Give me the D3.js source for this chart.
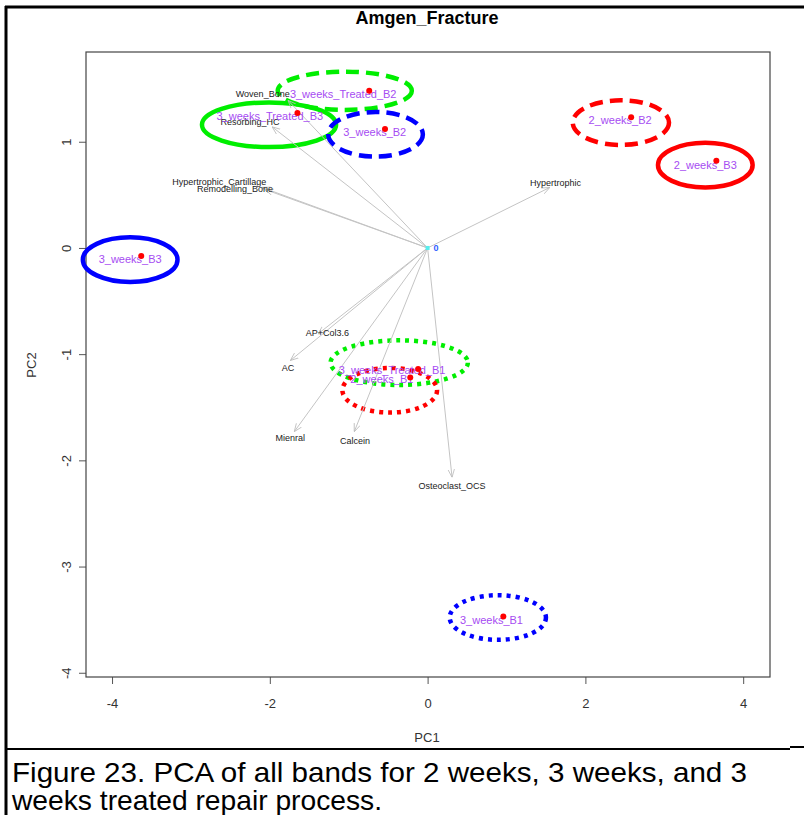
<!DOCTYPE html>
<html>
<head>
<meta charset="utf-8">
<script src="https://cdn.jsdelivr.net/npm/d3@7"></script>
<style>
  body { margin: 0; background: #fff; }
  svg { font-family: "Liberation Sans", Arial, sans-serif; }
</style>
</head>
<body>
<div id="graph"></div>
<script>
// sample scores (PC1, PC2)
const sampleNames = ["3_weeks_Treated_B2", "3_weeks_Treated_B3", "3_weeks_B2", "2_weeks_B2", "2_weeks_B3",
                     "3_weeks_B3", "3_weeks_Treated_B1", "2_weeks_B1", "3_weeks_B1"];
const sampleGroup = ["3_weeks_Treated", "3_weeks_Treated", "3_weeks", "2_weeks", "2_weeks",
                     "3_weeks", "3_weeks_Treated", "2_weeks", "3_weeks"];
const sampleBand = ["B2", "B3", "B2", "B2", "B3", "B3", "B1", "B1", "B1"];
const pc1 = [-0.74, -1.65, -0.54, 2.58, 3.66, -3.63, -0.12, -0.22, 0.96];
const pc2 = [1.48, 1.27, 1.12, 1.23, 0.82, -0.075, -1.14, -1.22, -3.47];
// where the sample names were printed
const labelPc1 = [-1.07, -2.0, -0.67, 2.44, 3.52, -3.77, -0.45, -0.58, 0.81];
const labelPc2 = [1.45, 1.24, 1.09, 1.2, 0.78, -0.11, -1.15, -1.24, -3.5];

// ellipses drawn round each sample
const ellCx = [-1.05, -2.01, -0.66, 2.45, 3.52, -3.77, -0.36, -0.48, 0.89];
const ellCy = [1.48, 1.16, 1.07, 1.18, 0.78, -0.11, -1.08, -1.34, -3.48];
const ellRx = [0.85, 0.85, 0.60, 0.61, 0.60, 0.60, 0.87, 0.60, 0.61];
const ellRy = [0.18, 0.21, 0.21, 0.21, 0.21, 0.21, 0.21, 0.21, 0.21];

// variable loadings
const varNames = ["Woven_Bone", "Resorbing_HC", "Hypertrophic_Cartillage", "Remodelling_Bone", "Hypertrophic",
                  "AP+Col3.6", "AC", "Mienral", "Calcein", "Osteoclast_OCS"];
const varTipX = [-1.77, -1.97, -2.10, -2.06, 1.55, -1.39, -1.74, -1.69, -0.93, 0.31];
const varTipY = [1.39, 1.14, 0.57, 0.55, 0.57, -0.81, -1.06, -1.73, -1.73, -2.16];
const varLabX = [-2.09, -2.25, -2.64, -2.44, 1.62, -1.27, -1.77, -1.74, -0.92, 0.31];
const varLabY = [1.45, 1.19, 0.62, 0.56, 0.61, -0.80, -1.13, -1.79, -1.82, -2.24];

const xTicks = [-4, -2, 0, 2, 4];
const yTicks = [-4, -3, -2, -1, 0, 1];

const width = 804, height = 815;
const plot = {left: 86, right: 770, top: 52, bottom: 677};
const narrow = '"Liberation Sans Narrow", "Arial Narrow", "Liberation Sans", sans-serif';

let svg = d3.select("#graph")
    .append("svg")
    .attr("width", width)
    .attr("height", height);

let x = d3.scaleLinear().domain([-4.33, 4.34]).range([plot.left, plot.right]);
let y = d3.scaleLinear().domain([-4.04, 1.845]).range([plot.bottom, plot.top]);

let color = d3.scaleOrdinal()
    .domain(["2_weeks", "3_weeks", "3_weeks_Treated"])
    .range(["#ff0000", "#0000ff", "#00ee00"]);
let dash = d3.scaleOrdinal()
    .domain(["B1", "B2", "B3"])
    .range(["4,5", "13,7", null]);

// outer frame of the figure
svg.append("line").attr("x1", 6).attr("x2", 6).attr("y1", 6).attr("y2", 815)
    .attr("stroke", "#000").attr("stroke-width", 3);
svg.append("line").attr("x1", 5).attr("x2", 804).attr("y1", 7).attr("y2", 7)
    .attr("stroke", "#000").attr("stroke-width", 3);
svg.append("line").attr("x1", 5).attr("x2", 790).attr("y1", 749).attr("y2", 749)
    .attr("stroke", "#000").attr("stroke-width", 2);
svg.append("line").attr("x1", 790).attr("x2", 804).attr("y1", 747).attr("y2", 747)
    .attr("stroke", "#000").attr("stroke-width", 2);

// title
svg.append("text")
    .attr("x", 427).attr("y", 24)
    .style("text-anchor", "middle")
    .style("font-family", narrow)
    .style("font-weight", "bold")
    .style("font-size", "18px")
    .text("Amgen_Fracture");

// axes
let xAxis = svg.append("g")
    .attr("transform", `translate(0,${plot.bottom})`)
    .call(d3.axisBottom(x).tickValues(xTicks).tickSize(7).tickPadding(15).tickFormat(d => String(d)));
xAxis.select(".domain").remove();
xAxis.selectAll("line").attr("stroke", "#555");
xAxis.selectAll("text").style("font-size", "13px").attr("fill", "#333")
    .style("font-family", narrow);

let yAxis = svg.append("g")
    .attr("transform", `translate(${plot.left},0)`)
    .call(d3.axisLeft(y).tickValues(yTicks).tickSize(7).tickFormat(d => String(d)));
yAxis.select(".domain").remove();
yAxis.selectAll("line").attr("stroke", "#555");
yAxis.selectAll("text")
    .attr("x", null).attr("dy", "0.35em")
    .attr("transform", "translate(-20,0) rotate(-90)")
    .style("text-anchor", "middle")
    .style("font-size", "13px").attr("fill", "#333")
    .style("font-family", narrow);

svg.append("text")
    .attr("x", 427).attr("y", 742)
    .style("text-anchor", "middle").style("font-size", "13px").attr("fill", "#333")
    .style("font-family", narrow)
    .text("PC1");
svg.append("text")
    .attr("transform", `translate(36,365) rotate(-90)`)
    .style("text-anchor", "middle").style("font-size", "13px").attr("fill", "#333")
    .style("font-family", narrow)
    .text("PC2");

// plot box
svg.append("rect")
    .attr("x", plot.left).attr("y", plot.top)
    .attr("width", plot.right - plot.left).attr("height", plot.bottom - plot.top)
    .attr("fill", "none").attr("stroke", "#444").attr("stroke-width", 1.2);

// arrow head
svg.append("defs").append("marker")
    .attr("id", "head")
    .attr("viewBox", "0 0 10 10")
    .attr("refX", 10).attr("refY", 5)
    .attr("markerWidth", 8).attr("markerHeight", 8)
    .attr("markerUnits", "userSpaceOnUse")
    .attr("orient", "auto")
    .append("path")
    .attr("d", "M0,1 L10,5 L0,9")
    .attr("fill", "none").attr("stroke", "#bbb").attr("stroke-width", 1);

let idx = d3.range(sampleNames.length);
let vIdx = d3.range(varNames.length);

// ellipses
svg.append("g").selectAll("ellipse")
    .data(idx)
    .enter().append("ellipse")
    .attr("cx", i => x(ellCx[i]))
    .attr("cy", i => y(ellCy[i]))
    .attr("rx", i => x(ellCx[i] + ellRx[i]) - x(ellCx[i]))
    .attr("ry", i => y(ellCy[i]) - y(ellCy[i] + ellRy[i]))
    .attr("fill", "none")
    .attr("stroke", i => color(sampleGroup[i]))
    .attr("stroke-width", 4.5)
    .attr("stroke-dasharray", i => dash(sampleBand[i]));

// loading arrows
svg.append("g").selectAll("line")
    .data(vIdx)
    .enter().append("line")
    .attr("x1", x(0)).attr("y1", y(0))
    .attr("x2", i => x(varTipX[i]))
    .attr("y2", i => y(varTipY[i]))
    .attr("stroke", "#c4c4c4").attr("stroke-width", 1)
    .attr("marker-end", "url(#head)");

svg.append("g").selectAll("text")
    .data(vIdx)
    .enter().append("text")
    .attr("x", i => x(varLabX[i]))
    .attr("y", i => y(varLabY[i]))
    .attr("dy", "0.35em")
    .style("text-anchor", "middle")
    .style("font-size", "9px")
    .attr("fill", "#222")
    .text(i => varNames[i]);

// origin
svg.append("rect")
    .attr("x", x(0) - 2).attr("y", y(0) - 2).attr("width", 4).attr("height", 4)
    .attr("fill", "#5ee");
svg.append("text")
    .attr("x", x(0) + 6).attr("y", y(0)).attr("dy", "0.35em")
    .style("font-size", "9px").style("font-weight", "bold").attr("fill", "#3060ff")
    .text("0");

// sample names and points
svg.append("g").selectAll("text")
    .data(idx)
    .enter().append("text")
    .attr("x", i => x(labelPc1[i]))
    .attr("y", i => y(labelPc2[i]))
    .attr("dy", "0.35em")
    .style("text-anchor", "middle")
    .style("font-size", "11px")
    .attr("fill", "#a64cf2")
    .text(i => sampleNames[i]);

svg.append("g").selectAll("circle")
    .data(idx)
    .enter().append("circle")
    .attr("cx", i => x(pc1[i]))
    .attr("cy", i => y(pc2[i]))
    .attr("r", 3)
    .attr("fill", "#ff0000");

// caption
svg.append("text")
    .attr("x", 12).attr("y", 782)
    .attr("textLength", 735).attr("lengthAdjust", "spacingAndGlyphs")
    .style("font-family", narrow)
    .style("font-size", "28px").attr("fill", "#000")
    .text("Figure 23. PCA of all bands for 2 weeks, 3 weeks, and 3");
svg.append("text")
    .attr("x", 12).attr("y", 810)
    .attr("textLength", 370).attr("lengthAdjust", "spacingAndGlyphs")
    .style("font-family", narrow)
    .style("font-size", "28px").attr("fill", "#000")
    .text("weeks treated repair process.");
</script>
</body>
</html>
